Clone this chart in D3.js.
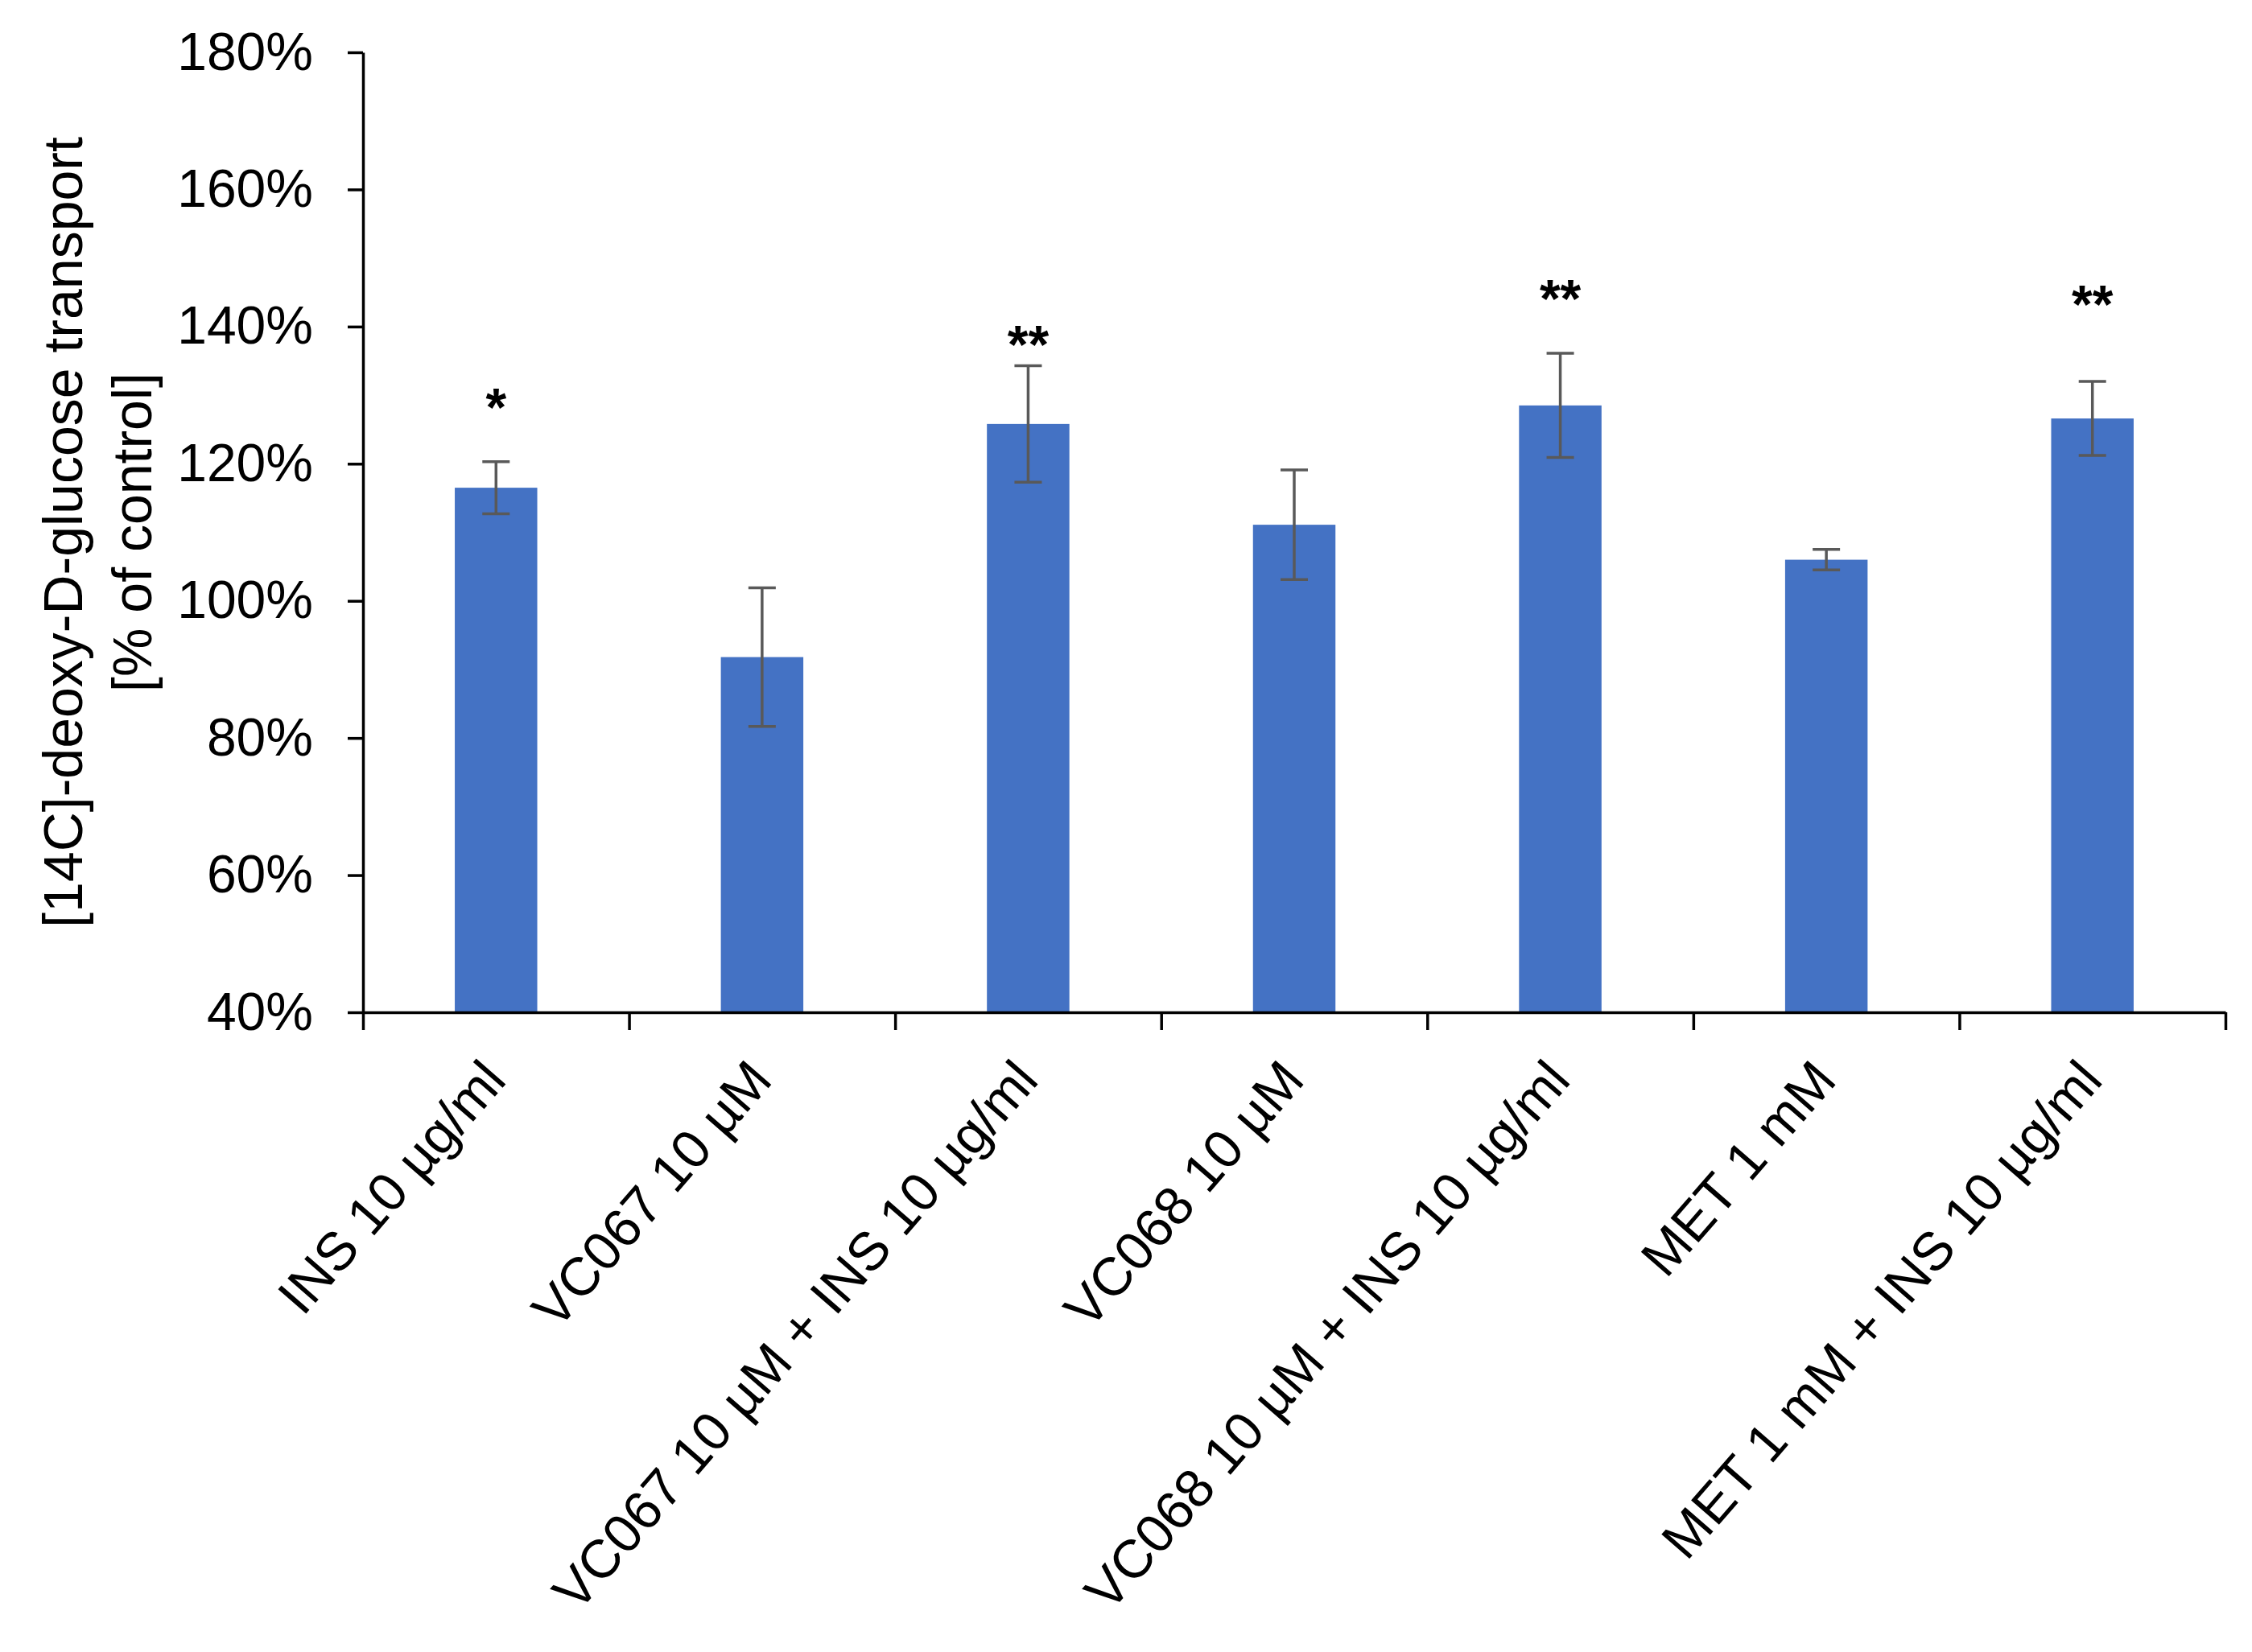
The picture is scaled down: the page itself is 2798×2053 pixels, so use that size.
<!DOCTYPE html>
<html>
<head>
<meta charset="utf-8">
<script src="https://cdn.jsdelivr.net/npm/d3@7"></script>
<style>
  body { margin: 0; background: #fff; }
  text { font-family: "Liberation Sans", Arial, sans-serif; }
</style>
</head>
<body>
<div class="chart"></div>
<script>
var categories = ["INS 10 µg/ml", "VC067 10 µM", "VC067 10 µM + INS 10 µg/ml", "VC068 10 µM",
                  "VC068 10 µM + INS 10 µg/ml", "MET 1 mM", "MET 1 mM + INS 10 µg/ml"];
var means = [116.5, 91.8, 125.8, 111.1, 128.5, 106.0, 126.6];
var errors = [3.8, 10.1, 8.5, 8.0, 7.6, 1.5, 5.4];
var stars = ["*", "", "**", "", "**", "", "**"];
var starLevels = [125.6, null, 134.7, null, 141.4, null, 140.6];
var yTicks = [40, 60, 80, 100, 120, 140, 160, 180];
var yTitle = ["[14C]-deoxy-D-glucose transport", "[% of control]"];

var width = 2798, height = 2053;
var plotLeft = 451, plotRight = 2765, plotTop = 65, plotBottom = 1258;
var fontSize = 66;

var svg = d3.select(".chart").append("svg")
    .attr("width", width)
    .attr("height", height);

var y = d3.scaleLinear().domain([40, 180]).range([plotBottom, plotTop]);

var x = d3.scaleBand()
    .domain(categories)
    .range([plotLeft, plotRight])
    .paddingInner(0.69)
    .paddingOuter(0.345);

// category boundaries for the tick marks
var xEdges = d3.scaleLinear().domain([0, categories.length]).range([plotLeft, plotRight]);

// bars
svg.append("g").selectAll("rect")
    .data(categories).enter()
    .append("rect")
    .attr("x", function(d) { return x(d); })
    .attr("width", x.bandwidth())
    .attr("y", function(d, i) { return y(means[i]); })
    .attr("height", function(d, i) { return y(40) - y(means[i]); })
    .attr("fill", "#4472C4");

// error bars
var capHalf = 17;
var err = svg.append("g").attr("stroke", "#595959").attr("stroke-width", 3.5);
categories.forEach(function(c, i) {
  var cx = x(c) + x.bandwidth() / 2;
  var hi = y(means[i] + errors[i]), lo = y(means[i] - errors[i]);
  err.append("line").attr("x1", cx).attr("x2", cx).attr("y1", hi).attr("y2", lo);
  err.append("line").attr("x1", cx - capHalf).attr("x2", cx + capHalf).attr("y1", hi).attr("y2", hi);
  err.append("line").attr("x1", cx - capHalf).attr("x2", cx + capHalf).attr("y1", lo).attr("y2", lo);
});

// significance marks
svg.append("g").selectAll("text")
    .data(categories).enter()
    .append("text")
    .filter(function(d, i) { return stars[i] !== ""; })
    .attr("x", function(d) { return x(d) + x.bandwidth() / 2; })
    .attr("y", function(d) { return y(starLevels[categories.indexOf(d)]); })
    .attr("text-anchor", "middle")
    .attr("font-size", fontSize)
    .attr("font-weight", "bold")
    .attr("fill", "#000")
    .text(function(d) { return stars[categories.indexOf(d)]; });

// y axis
var yAxis = svg.append("g")
    .attr("transform", "translate(" + plotLeft + ",0)")
    .call(d3.axisLeft(y)
      .tickValues(yTicks)
      .tickFormat(function(d) { return d + "%"; })
      .tickSize(19)
      .tickSizeOuter(0)
      .tickPadding(43));
yAxis.selectAll("path, line").attr("stroke", "#000").attr("stroke-width", 3.5);
yAxis.selectAll("text").attr("font-size", fontSize).attr("fill", "#000")
    .attr("font-family", "Liberation Sans, Arial, sans-serif");

// x axis
var xAxis = svg.append("g")
    .attr("transform", "translate(0," + plotBottom + ")")
    .call(d3.axisBottom(xEdges)
      .tickValues(d3.range(categories.length + 1))
      .tickFormat("")
      .tickSize(22)
      .tickSizeOuter(0));
xAxis.selectAll("path, line").attr("stroke", "#000").attr("stroke-width", 3.5);

// rotated category labels
svg.append("g").selectAll("text")
    .data(categories).enter()
    .append("text")
    .attr("transform", function(d) {
      return "translate(" + (x(d) + x.bandwidth() / 2 + 15) + "," + (plotBottom + 86) + ") rotate(-49)";
    })
    .attr("text-anchor", "end")
    .attr("font-size", 67)
    .attr("fill", "#000")
    .text(function(d) { return d; });

// y axis title
var titleY = (plotTop + plotBottom) / 2;
svg.append("g").selectAll("text")
    .data(yTitle).enter()
    .append("text")
    .attr("transform", function(d, i) {
      return "translate(" + (102 + i * 86) + "," + titleY + ") rotate(-90)";
    })
    .attr("text-anchor", "middle")
    .attr("font-size", 68)
    .attr("fill", "#000")
    .text(function(d) { return d; });
</script>
</body>
</html>
